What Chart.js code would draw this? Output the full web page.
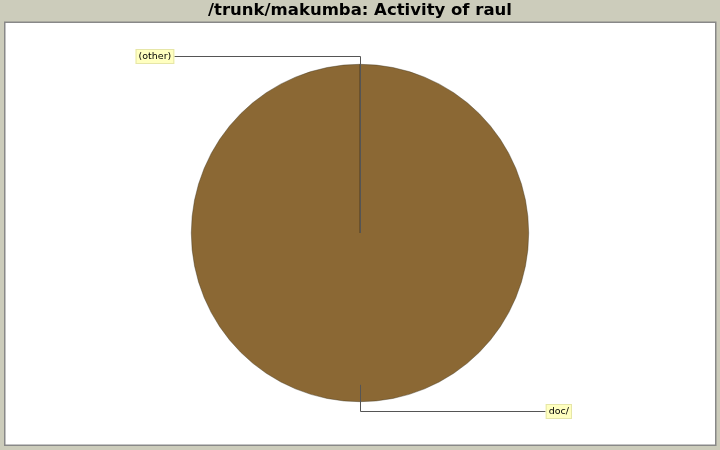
<!DOCTYPE html>
<html>
<head>
<meta charset="utf-8">
<script src="https://cdn.jsdelivr.net/npm/chart.js@4"></script>
<style>
  html, body { margin: 0; padding: 0; background: #ccccbb; }
  #wrap { width: 720px; height: 450px; }
</style>
</head>
<body>
<div id="wrap"><canvas id="pie"></canvas></div>
<script>
const title = '/trunk/makumba: Activity of raul';
const categories = ['doc/', '(other)'];
const values = [100, 0];
const colors = ['#8b6834', '#ff5555'];

// frame, title, and the yellow callout labels
const decorations = {
  id: 'decorations',
  beforeDraw(chart) {
    const ctx = chart.ctx;
    ctx.save();
    ctx.fillStyle = '#ccccbb';
    ctx.fillRect(0, 0, chart.width, chart.height);
    ctx.fillStyle = '#ffffff';
    ctx.fillRect(5, 22, 711, 423);
    ctx.strokeStyle = '#888888';
    ctx.lineWidth = 1.5;
    ctx.strokeRect(4.75, 22.25, 711, 423);
    ctx.fillStyle = '#000000';
    ctx.font = 'bold 16.5px "DejaVu Sans"';
    ctx.textAlign = 'center';
    ctx.textBaseline = 'middle';
    ctx.fillText(title, chart.width / 2, 11);
    ctx.restore();
  },
  afterDraw(chart) {
    const ctx = chart.ctx;
    const arcs = chart.getDatasetMeta(0).data;
    ctx.save();
    ctx.font = '9.5px "DejaVu Sans"';
    ctx.textBaseline = 'middle';
    arcs.forEach((arc, i) => {
      const { x, y, startAngle, endAngle, outerRadius } = arc.getProps(['x', 'y', 'startAngle', 'endAngle', 'outerRadius'], true);
      const a = (startAngle + endAngle) / 2;
      const c = Math.cos(a), s = Math.sin(a);
      const right = c > 1e-9 || (Math.abs(c) < 1e-9 && s > 0);
      const linkR = endAngle - startAngle > 1e-6 ? outerRadius * 0.9 : 0;
      const lx = x + c * linkR;
      const ly = y + s * linkR;
      const labelY = Math.round(y + s * (outerRadius + 8.5) + 0.5) + 0.5;
      const edgeX = right ? x + outerRadius + 17 : x - outerRadius - 17;
      const bendX = Math.round(lx) + 0.5;

      ctx.strokeStyle = '#555555';
      ctx.lineWidth = 1;
      ctx.beginPath();
      ctx.moveTo(edgeX, labelY);
      ctx.lineTo(bendX, labelY);
      ctx.lineTo(bendX, ly);
      ctx.stroke();

      const text = categories[i];
      const w = ctx.measureText(text).width + 6;
      const h = 15;
      const bx = right ? edgeX : edgeX - w;
      ctx.fillStyle = '#ffffc0';
      ctx.fillRect(bx, labelY - h / 2, w, h);
      ctx.strokeStyle = '#e6e6a8';
      ctx.strokeRect(bx + 0.5, labelY - h / 2 + 0.5, w - 1, h - 1);
      ctx.fillStyle = '#000000';
      ctx.textAlign = 'left';
      ctx.fillText(text, bx + 3, labelY + 0.5);
    });
    ctx.restore();
  }
};

new Chart(document.getElementById('pie'), {
  type: 'pie',
  data: {
    labels: categories,
    datasets: [{
      data: values,
      backgroundColor: colors,
      borderColor: 'rgba(60,50,30,0.7)',
      borderWidth: 0.6,
    }],
  },
  options: {
    responsive: true,
    maintainAspectRatio: false,
    animation: false,
    layout: { padding: { top: 64, bottom: 48, left: 0, right: 0 } },
    plugins: {
      legend: { display: false },
      title: { display: false },
      tooltip: { enabled: false },
    },
  },
  plugins: [decorations],
});
</script>
</body>
</html>
